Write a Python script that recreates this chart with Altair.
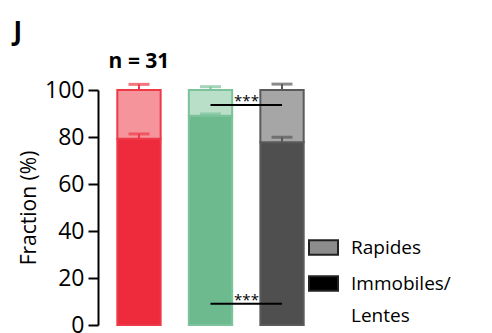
import altair as alt
import pandas as pd

# ---- data ----
groups = ["Groupe 1", "Groupe 2", "Groupe 3"]
immobile = [79.3, 89.0, 77.8]          # Immobiles/Lentes fraction (%)
immobile_err = [2.0, 0.8, 2.1]        # SEM of lower segment
total = [100.0, 100.0, 100.0]
rapid_err = [2.4, 1.4, 2.5]           # SEM of upper segment (drawn above 100)
segments = ["Rapides", "Immobiles/Lentes"]
sig_levels = [93.6, 9.0]
sig_labels = ["***", "***"]
n_label = "n = 31"

# ---- styles ----
FONT = "Open Sans"
dark_cols = ["#EE2B3D", "#6DBA8F", "#4F4F4F"]
light_cols = ["#F5959B", "#B9DFC9", "#A6A6A6"]
stroke_cols = ["#EE3A48", "#7CC29A", "#5A5A5A"]

rows = []
for g, im, tot in zip(groups, immobile, total):
    rows.append({"group": g, "segment": "Immobiles/Lentes", "key": g + "|low", "start": 0, "end": im})
    rows.append({"group": g, "segment": "Rapides", "key": g + "|high", "start": im, "end": tot})
bars_df = pd.DataFrame(rows)

err_rows = []
for g, im, e1, tot, e2 in zip(groups, immobile, immobile_err, total, rapid_err):
    err_rows.append({"group": g, "lo": im, "hi": im + e1})
    err_rows.append({"group": g, "lo": tot, "hi": tot + e2})
err_df = pd.DataFrame(err_rows)

sig_df = pd.DataFrame({"g1": [groups[1]] * 2, "g2": [groups[2]] * 2,
                       "y": sig_levels, "label": sig_labels})
n_df = pd.DataFrame({"group": [groups[0]], "y": [109.4], "label": [n_label]})
leg_df = pd.DataFrame({"group": [groups[0]] * 2, "y": [50.0, 50.0], "segment": segments})

fill_domain = [g + "|low" for g in groups] + [g + "|high" for g in groups]
fill_range = dark_cols + light_cols

xscale = alt.Scale(domain=groups, paddingInner=0.394, paddingOuter=0.27)
yscale = alt.Scale(domain=[0, 100], nice=False, zero=True)

x_enc = alt.X("group:N", scale=xscale, axis=None)

# hidden layer only to produce the legend (drawn behind the bars)
legend_layer = alt.Chart(leg_df).mark_point(filled=True, size=1).encode(
    x=x_enc,
    y=alt.Y("y:Q", scale=yscale),
    fill=alt.Fill("segment:N",
                  scale=alt.Scale(domain=segments, range=["#8C8C8C", "#000000"]),
                  legend=alt.Legend(title=None, orient="none", legendX=210, legendY=142,
                                    symbolType="M-1,-0.5H1V0.5H-1Z", symbolSize=841,
                                    symbolStrokeColor="#222222", symbolStrokeWidth=2,
                                    symbolOpacity=1,
                                    labelFont=FONT, labelFontSize=19, labelColor="black",
                                    labelOffset=12, rowPadding=9, padding=0,
                                    labelLimit=300,
                                    labelExpr="datum.label == 'Immobiles/Lentes' ? ['Immobiles/', 'Lentes'] : datum.label")),
)

bars = alt.Chart(bars_df).mark_bar(strokeWidth=2).encode(
    x=x_enc,
    y=alt.Y("start:Q", scale=yscale,
            axis=alt.Axis(values=list(range(0, 101, 10)), title="Fraction (%)",
                          labelExpr="datum.value % 20 === 0 ? datum.label : ''",
                          tickSize={"condition": {"test": "datum.value % 20 === 0", "value": 10}, "value": 5},
                          tickWidth=2, tickColor="black", domainWidth=2, domainColor="black",
                          labelFont=FONT, labelFontSize=23, labelColor="black", labelPadding=4,
                          titleFont=FONT, titleFontSize=21, titleFontWeight="normal",
                          titleColor="black", titlePadding=5, grid=False)),
    y2="end:Q",
    fill=alt.Fill("key:N", scale=alt.Scale(domain=fill_domain, range=fill_range), legend=None),
    stroke=alt.Stroke("group:N", scale=alt.Scale(domain=groups, range=stroke_cols), legend=None),
)

whisk = alt.Chart(err_df).mark_rule(strokeWidth=2).encode(
    x=x_enc, y=alt.Y("lo:Q", scale=yscale), y2="hi:Q",
    stroke=alt.Stroke("group:N", scale=alt.Scale(domain=groups, range=stroke_cols), legend=None),
)
caps = alt.Chart(err_df).mark_tick(thickness=3, size=21).encode(
    x=x_enc, y=alt.Y("hi:Q", scale=yscale),
    color=alt.Color("group:N", scale=alt.Scale(domain=groups, range=stroke_cols), legend=None),
)

sig_rules = alt.Chart(sig_df).mark_rule(strokeWidth=2, color="black").encode(
    x=alt.X("g1:N", scale=xscale, axis=None), x2="g2:N", y=alt.Y("y:Q", scale=yscale),
)
sig_text = alt.Chart(sig_df).mark_text(font=FONT, fontSize=15, color="black", dx=36, dy=1,
                                       baseline="alphabetic").encode(
    x=alt.X("g1:N", scale=xscale, axis=None), y=alt.Y("y:Q", scale=yscale), text="label:N",
)
n_text = alt.Chart(n_df).mark_text(font=FONT, fontSize=21, fontWeight="bold", color="black",
                                   baseline="alphabetic").encode(
    x=x_enc, y=alt.Y("y:Q", scale=yscale), text="label:N",
)

chart = alt.layer(legend_layer, bars, whisk, caps, sig_rules, sig_text, n_text).resolve_scale(
    fill="independent", stroke="shared"
).properties(
    width=225, height=235,
    title=alt.Title("J", anchor="start", dx=-5, offset=6, font=FONT, fontSize=26,
                    fontWeight="bold", color="black"),
    padding={"left": 5, "top": 10, "right": 5, "bottom": 5},
).configure(
    style={"guide-label": {"lineHeight": 32}},
    view=alt.ViewConfig(stroke=None),
)

chart.save("out.html", embed_options={"renderer": "svg", "actions": False})
